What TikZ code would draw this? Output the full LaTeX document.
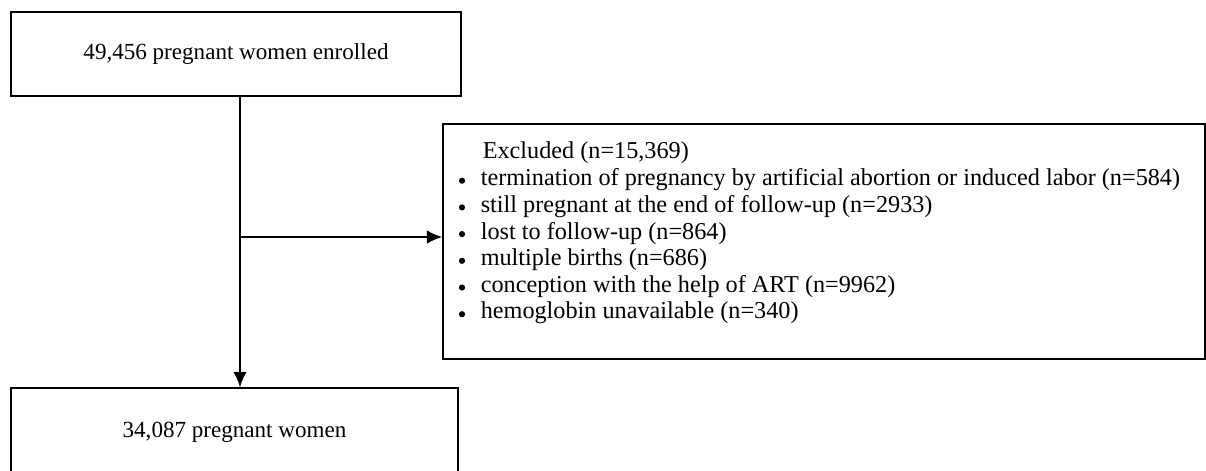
\documentclass[tikz,border=0pt]{standalone}
\usepackage{fontspec}
\setmainfont{Liberation Serif}
\usetikzlibrary{arrows.meta}
\begin{document}
\begin{tikzpicture}[x=0.52pt, y=-0.52pt, line width=0.8pt,
    every node/.style={font=\fontsize{12}{14}\selectfont},
    listtext/.style={anchor=west, inner sep=0pt, font=\fontsize{12.6}{14}\selectfont},
    dot/.style={circle, fill, inner sep=0pt, minimum size=3.2pt},
    >={Latex[length=8pt,width=7pt]}]
    \useasboundingbox (0,0) rectangle (1206,470);
    \clip (0,0) rectangle (1206,470);

    % Enrolled
    \node[draw, minimum width=234pt, minimum height=43.7pt] (enrolled) at (236,54) {49,456 pregnant women enrolled};

    % Excluded
    \node[draw, minimum width=396.2pt, minimum height=122.2pt] (excluded) at (824,241.5) {};
    \node[listtext] (exhead) at (482,153) {Excluded (n=15,369)};
    \foreach \txt [count=\i] in {termination of pregnancy by artificial abortion or induced labor (n=584),
        still pregnant at the end of follow-up (n=2933),
        lost to follow-up (n=864),
        multiple births (n=686),
        conception with the help of ART (n=9962),
        hemoglobin unavailable (n=340)} {
        \node[dot] (bullet\i) at (462,154+26.7*\i) {};
        \node[listtext] (reason\i) at (480,153+26.7*\i) {\txt};
    }

    % Final cohort
    \node[draw, minimum width=232.4pt, minimum height=45.8pt] (cohort) at (234.5,432) {34,087 pregnant women};

    % Arrows
    \coordinate (split) at (240,237);
    \draw[->] (enrolled.south -| split) -- (split |- cohort.north);
    \draw[->] (split) -- (split -| excluded.west);
\end{tikzpicture}
\end{document}
